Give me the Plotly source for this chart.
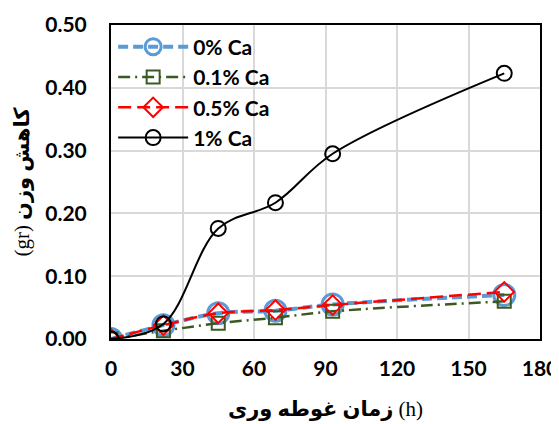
import plotly.graph_objects as go

hours = [0, 22, 45, 69, 93, 165]
ca_0 = [0, 0.022, 0.041, 0.045, 0.055, 0.070]
ca_01 = [0, 0.013, 0.025, 0.034, 0.044, 0.060]
ca_05 = [0, 0.022, 0.041, 0.046, 0.054, 0.075]
ca_1 = [0, 0.024, 0.176, 0.217, 0.295, 0.423]
series_names = ["0% Ca", "0.1% Ca", "0.5% Ca", "1% Ca"]
x_ticks = [0, 30, 60, 90, 120, 150, 180]
y_ticks = [0, 0.1, 0.2, 0.3, 0.4, 0.5]
x_title = "زمان غوطه وری <span style='font-family:Liberation Serif;font-weight:normal'>(h)</span>"
y_title = "<span style='font-family:Liberation Serif;font-weight:normal'>(gr)</span> کاهش وزن"

FONT = "Lato, DejaVu Sans, sans-serif"

fig = go.Figure()
styles = [
    dict(color="#5B9BD5", dash="10px,5px", width=4, symbol="circle-open", size=21, mw=3),
    dict(color="#3B5A23", dash="12px,5px,2px,5px", width=2.5, symbol="square-open", size=13, mw=2),
    dict(color="#FF0000", dash="13px,6px", width=2.5, symbol="diamond-open", size=15, mw=2),
    dict(color="#000000", dash="solid", width=2, symbol="circle-open", size=15, mw=2),
]
for name, ys, s in zip(series_names, [ca_0, ca_01, ca_05, ca_1], styles):
    fig.add_trace(go.Scatter(
        x=hours, y=ys, name=name, mode="lines+markers",
        line=dict(color=s["color"], dash=s["dash"], width=s["width"], shape="spline", smoothing=1),
        marker=dict(symbol=s["symbol"], size=s["size"], color=s["color"],
                    line=dict(color=s["color"], width=s["mw"])),
    ))

axis_common = dict(
    showgrid=True, gridcolor="#D9D9D9", gridwidth=2,
    showline=True, linecolor="#000000", linewidth=2, mirror=True,
    ticks="", zeroline=False, automargin=False,
    tickfont=dict(family=FONT, size=21, color="#000", weight="bold"),
)
fig.update_xaxes(range=[0, 180], tickvals=x_ticks, ticklabelstandoff=10, **axis_common,
                 title=dict(text=x_title, font=dict(family=FONT, size=21, color="#000", weight="bold"), standoff=22))
fig.update_yaxes(range=[0, 0.5], tickvals=y_ticks, tickformat=".2f", ticklabelstandoff=18, **axis_common,
                 title=dict(text=y_title, font=dict(family=FONT, size=21, color="#000", weight="bold"), standoff=10))

fig.update_layout(
    width=551, height=416,
    margin=dict(l=103, r=19, t=17, b=85),
    paper_bgcolor="white", plot_bgcolor="white",
    legend=dict(x=0.005, y=0.995, xanchor="left", yanchor="top",
                bgcolor="rgba(255,255,255,0)", itemwidth=70,
                font=dict(family=FONT, size=21, color="#000", weight="bold")),
    showlegend=True,
)
fig.write_html("out.html")
